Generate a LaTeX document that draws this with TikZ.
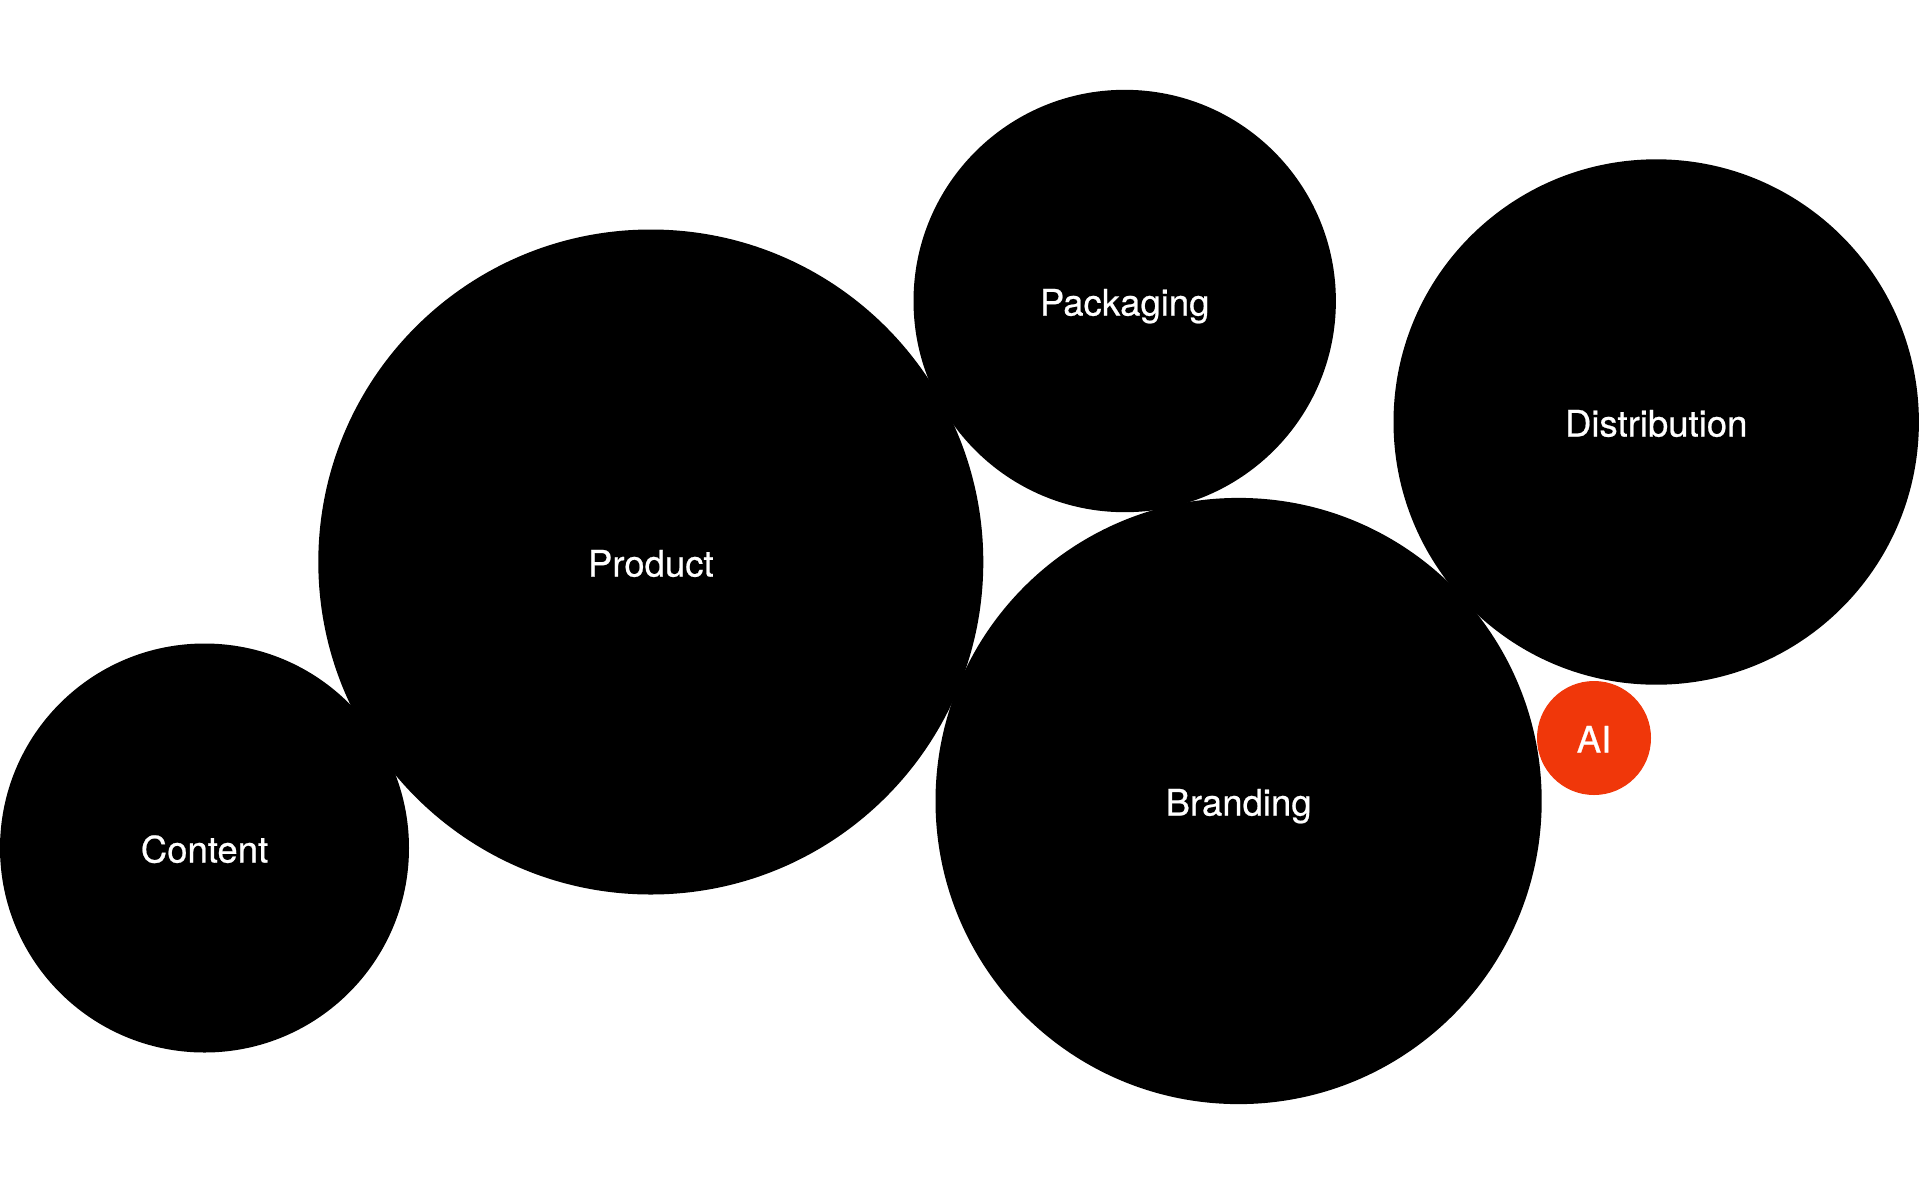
\documentclass[tikz,border=0pt]{standalone}
\usepackage{fontspec}
\setmainfont{TeX Gyre Heros}[FakeBold=0.6]
\definecolor{aired}{RGB}{240,55,10}
\begin{document}
\begin{tikzpicture}[x=1pt,y=-1pt,
  bub/.style={circle, fill=black, inner sep=0pt, text=white,
    font=\fontsize{36.5}{44}\selectfont, text height=29pt, text depth=0pt},
  redbub/.style={bub, fill=aired}
]
\useasboundingbox[fill=white] (0,0) rectangle (1920,1195);
\node[bub, minimum size=409pt] (content) at (204.5,848) {Content};
\node[bub, minimum size=665pt] (product) at (650.8,562) {Product};
\node[bub, minimum size=422.4pt] (packaging) at (1124.7,301) {Packaging};
\node[bub, minimum size=525.4pt] (distribution) at (1656.2,422) {Distribution};
\node[bub, minimum size=606.2pt] (branding) at (1238.6,801) {Branding};
\node[redbub, minimum size=114pt] (ai) at (1594,738) {AI};
\end{tikzpicture}
\end{document}
